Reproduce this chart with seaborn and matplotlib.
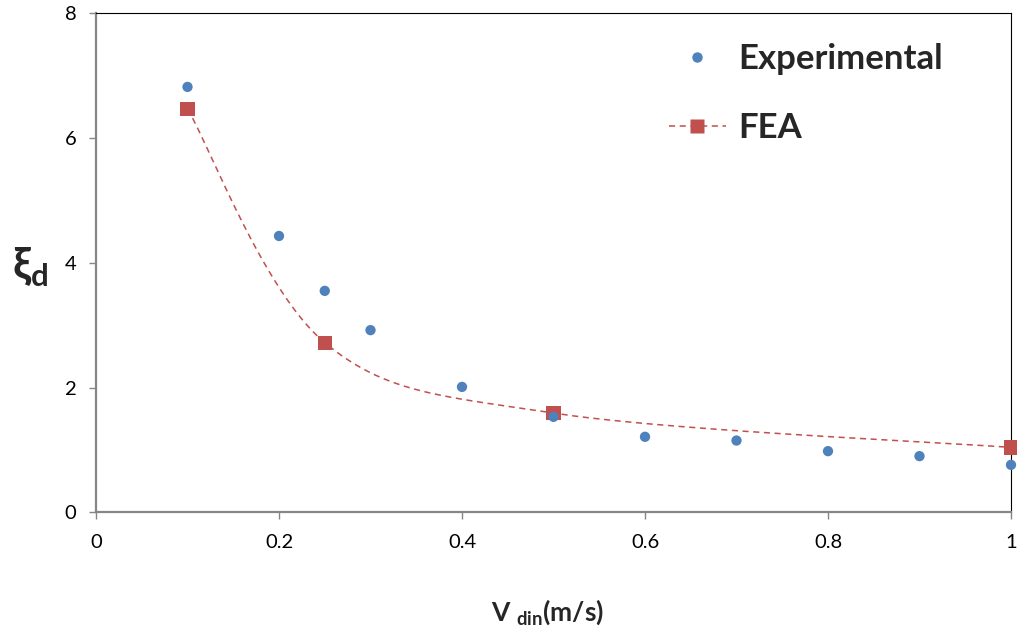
import numpy as np
import pandas as pd
import matplotlib
matplotlib.use("Agg")
import matplotlib.pyplot as plt
import seaborn as sns
from matplotlib.lines import Line2D

# Measured damping ratio vs. dynamic velocity
exp_v = [0.1, 0.2, 0.25, 0.3, 0.4, 0.5, 0.6, 0.7, 0.8, 0.9, 1.0]
exp_xi = [6.82, 4.43, 3.55, 2.92, 2.01, 1.53, 1.21, 1.15, 0.98, 0.90, 0.76]

# Finite element results
fea_v = [0.1, 0.25, 0.5, 1.0]
fea_xi = [6.47, 2.72, 1.59, 1.04]

x_ticks = [0, 0.2, 0.4, 0.6, 0.8, 1.0]
x_tick_labels = ["0", "0.2", "0.4", "0.6", "0.8", "1"]
y_ticks = [0, 2, 4, 6, 8]

BLUE = "#4F81BD"
RED = "#C0504D"
AXIS_GRAY = "#868686"


def smooth_curve(xs, ys, n=80):
    """Catmull-Rom style Bezier smoothing through the given points."""
    p = np.column_stack([xs, ys]).astype(float)
    ext = np.vstack([p[0], p, p[-1]])
    t = np.linspace(0, 1, n)[:, None]
    pieces = []
    for i in range(len(p) - 1):
        a, b = ext[i + 1], ext[i + 2]
        c1 = a + (ext[i + 2] - ext[i]) / 6.0
        c2 = b - (ext[i + 3] - ext[i + 1]) / 6.0
        seg = (1 - t) ** 3 * a + 3 * (1 - t) ** 2 * t * c1 + 3 * (1 - t) * t ** 2 * c2 + t ** 3 * b
        pieces.append(seg if i == 0 else seg[1:])
    return np.vstack(pieces)


sns.set_theme(style="white")
plt.rcParams["font.family"] = ["Lato", "DejaVu Sans"]
plt.rcParams["mathtext.fontset"] = "custom"
plt.rcParams["mathtext.rm"] = "Lato"
plt.rcParams["mathtext.bf"] = "Lato:bold"

fig = plt.figure(figsize=(10.17, 6.34), dpi=100)
ax = fig.add_axes([0.0944, 0.192, 0.8997, 0.787])

curve = smooth_curve(fea_v, fea_xi)
curve_df = pd.DataFrame({"v": curve[:, 0], "xi": curve[:, 1]})
exp_df = pd.DataFrame({"v": exp_v, "xi": exp_xi})
fea_df = pd.DataFrame({"v": fea_v, "xi": fea_xi})

sns.lineplot(data=curve_df, x="v", y="xi", ax=ax, sort=False, estimator=None,
             color=RED, linewidth=1.1, dashes=False, linestyle=(0, (4, 3)),
             zorder=3, clip_on=False)
sns.scatterplot(data=fea_df, x="v", y="xi", ax=ax, marker="s", s=105,
                color=RED, edgecolor="none", zorder=4, clip_on=False)
sns.scatterplot(data=exp_df, x="v", y="xi", ax=ax, marker="o", s=55,
                color=BLUE, edgecolor="none", zorder=5, clip_on=False)

ax.set_xlim(0, 1)
ax.set_ylim(0, 8)
ax.set_xticks(x_ticks)
ax.set_xticklabels(x_tick_labels)
ax.set_yticks(y_ticks)
ax.set_yticklabels([str(v) for v in y_ticks])

for side in ("left", "bottom"):
    ax.spines[side].set_color(AXIS_GRAY)
    ax.spines[side].set_linewidth(1.6)
for side in ("top", "right"):
    ax.spines[side].set_color("black")
    ax.spines[side].set_linewidth(0.8)
    ax.spines[side].set_visible(True)

ax.tick_params(axis="both", which="major", direction="out", length=5,
               width=1.0, color=AXIS_GRAY, labelsize=14.5, labelcolor="black",
               left=True, bottom=True, pad=9)
ax.tick_params(axis="x", pad=11)

ax.set_xlabel("V $_{\\mathbf{din}}$(m/s)", fontsize=19, fontweight="bold")
ax.xaxis.set_label_coords(0.494, -0.20)
ax.xaxis.label.set_va("center")

ax.set_ylabel("ξ$_{\\mathbf{d}}$", fontsize=32, fontweight="bold", rotation=0,
              family=["Lato", "DejaVu Sans"])
ax.yaxis.set_label_coords(-0.072, 0.49)
ax.yaxis.label.set_va("center")
ax.yaxis.label.set_ha("center")

handles = [
    Line2D([], [], linestyle="none", marker="o", markersize=7.5,
           markerfacecolor=BLUE, markeredgecolor="none"),
    Line2D([], [], linestyle=(0, (4, 3)), linewidth=1.1, color=RED,
           marker="s", markersize=10, markerfacecolor=RED, markeredgecolor="none"),
]
ax.legend(handles, ["Experimental", "FEA"], loc="upper left",
          bbox_to_anchor=(0.626, 0.941), frameon=False,
          prop={"size": 25, "weight": "bold"}, handlelength=1.64,
          handletextpad=0.37, labelspacing=1.08, borderpad=0, borderaxespad=0)

fig.savefig("out.png", dpi=100)
